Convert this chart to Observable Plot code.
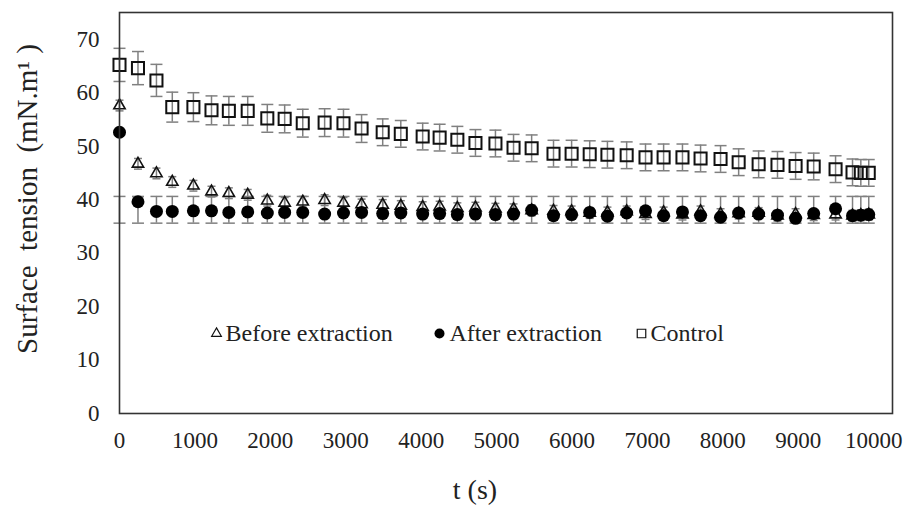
<!DOCTYPE html>
<html><head><meta charset="utf-8">
<script src="https://cdn.jsdelivr.net/npm/d3@7"></script>
<script src="https://cdn.jsdelivr.net/npm/@observablehq/plot@0.6"></script>
<style>body{margin:0;background:#fff} #chart{width:910px;height:511px}</style>
</head><body><div id="chart"></div>
<script>
// ---- data ----
const times = [0,245,490,700,980,1220,1450,1700,1960,2190,2430,2720,2970,3210,3490,3730,4020,4245,4480,4720,4985,5225,5465,5755,5995,6235,6470,6725,6975,7215,7465,7705,7970,8210,8475,8725,8965,9205,9495,9720,9830,9935];
const control = [65.2,64.6,62.3,57.3,57.3,56.7,56.6,56.6,55.2,55.1,54.3,54.4,54.3,53.3,52.6,52.3,51.8,51.6,51.2,50.6,50.5,49.7,49.6,48.6,48.6,48.5,48.4,48.3,47.9,47.9,47.9,47.7,47.6,47.0,46.6,46.5,46.3,46.2,45.7,45.1,45.0,45.0];
const controlErr = [3.1,3.1,3.0,2.8,2.7,2.7,2.7,2.7,2.6,2.6,2.6,2.6,2.6,2.6,2.5,2.5,2.5,2.5,2.5,2.5,2.5,2.5,2.5,2.5,2.5,2.5,2.5,2.5,2.5,2.5,2.5,2.5,2.5,2.5,2.5,2.5,2.5,2.5,2.5,2.5,2.5,2.5];
const before = [57.6,46.7,44.9,43.3,42.6,41.5,41.2,40.9,39.8,39.4,39.6,39.9,39.4,39.1,39.0,38.8,38.6,38.7,38.4,38.5,38.3,38.2,38.0,37.9,37.8,37.5,37.6,37.8,37.3,37.6,37.2,37.8,37.3,37.4,37.5,37.0,37.3,37.1,37.2,37.0,37.1,37.2];
const beforeErr = 1.0;
const after = [52.6,39.6,37.8,37.8,37.9,37.9,37.6,37.7,37.5,37.6,37.6,37.3,37.5,37.6,37.4,37.5,37.3,37.4,37.2,37.3,37.2,37.3,38.0,37.0,37.2,37.6,36.9,37.5,37.9,37.0,37.7,37.0,36.7,37.5,37.3,37.1,36.5,37.4,38.3,37.0,37.1,37.2];
const afterBarLow = 35.6, afterBarHigh = 40.6;
const xTicks = [0,1000,2000,3000,4000,5000,6000,7000,8000,9000,10000];
const yTicks = [0,10,20,30,40,50,60,70];
const legendLabels = ["Before extraction","After extraction","Control"];
const xLabel = "t (s)";
const yLabel = "Surface\u00a0 tension\u00a0 (mN.m\u00b9 )";

const rows = times.map((t, i) => ({
  t, control: control[i], cLo: control[i] - controlErr[i], cHi: control[i] + controlErr[i],
  before: before[i], bLo: before[i] - beforeErr, bHi: before[i] + beforeErr,
  after: after[i], aLo: afterBarLow, aHi: afterBarHigh
}));

const cap = {draw(ctx, size){ const w = Math.sqrt(size / Math.PI); ctx.moveTo(-w, 0); ctx.lineTo(w, 0); }};
const errColor = "#808080";
const serif = "'Liberation Serif','Times New Roman',serif";

function errBars(lo, hi, capR) {
  return [
    Plot.ruleX(rows, {x: "t", y1: lo, y2: hi, stroke: errColor, strokeWidth: 1.5}),
    Plot.dot(rows, {x: "t", y: lo, symbol: cap, r: capR, stroke: errColor, strokeWidth: 1.5, fill: "none"}),
    Plot.dot(rows, {x: "t", y: hi, symbol: cap, r: capR, stroke: errColor, strokeWidth: 1.5, fill: "none"})
  ];
}

const chart = Plot.plot({
  width: 910, height: 511,
  marginLeft: 119, marginRight: 18, marginTop: 12, marginBottom: 98,
  style: {fontFamily: serif, fontSize: "23px", background: "#fff", color: "#222"},
  x: {domain: [0, 10250], label: null},
  y: {domain: [0, 75], label: null},
  marks: [
    ...errBars("aLo", "aHi", 6),
    ...errBars("cLo", "cHi", 6),
    ...errBars("bLo", "bHi", 4),
    Plot.dot(rows, {x: "t", y: "before", symbol: "triangle", r: 4.2, stroke: "#111", strokeWidth: 1.6, fill: "none"}),
    Plot.dot(rows, {x: "t", y: "after", symbol: "circle", r: 6.5, fill: "#000", stroke: "none"}),
    Plot.dot(rows, {x: "t", y: "control", symbol: "square", r: 6.8, stroke: "#111", strokeWidth: 2, fill: "none"}),
    Plot.frame({stroke: "#333", strokeWidth: 1.6}),
    Plot.axisX(xTicks, {tickSize: 0, tickPadding: 18, tickFormat: d => String(d), fontSize: 23, fill: "#222", label: null}),
    Plot.axisY(yTicks, {tickSize: 0, tickPadding: 20, tickFormat: d => String(d), fontSize: 23, fill: "#222", label: null}),
    Plot.text([yLabel], {text: d => d, frameAnchor: "left", dx: -92, dy: -14, rotate: -90, fontSize: 29, fill: "#222", lineAnchor: "middle", textAnchor: "middle"}),
    Plot.text([xLabel], {text: d => d, frameAnchor: "bottom", dx: -31, dy: 77, fontSize: 28, fill: "#222", lineAnchor: "middle"}),
    // legend
    Plot.dot([legendLabels[0]], {frameAnchor: "top-left", dx: 97, dy: 321, symbol: "triangle", r: 3.6, stroke: "#111", strokeWidth: 1.2, fill: "none"}),
    Plot.text([legendLabels[0]], {text: d => d, frameAnchor: "top-left", dx: 106, dy: 321, textAnchor: "start", lineAnchor: "middle", fontSize: 24, fill: "#222"}),
    Plot.dot([legendLabels[1]], {frameAnchor: "top-left", dx: 320, dy: 321, symbol: "circle", r: 5, fill: "#000"}),
    Plot.text([legendLabels[1]], {text: d => d, frameAnchor: "top-left", dx: 330, dy: 321, textAnchor: "start", lineAnchor: "middle", fontSize: 24, fill: "#222"}),
    Plot.dot([legendLabels[2]], {frameAnchor: "top-left", dx: 522, dy: 321, symbol: "square", r: 4.8, stroke: "#111", strokeWidth: 1.2, fill: "none"}),
    Plot.text([legendLabels[2]], {text: d => d, frameAnchor: "top-left", dx: 531, dy: 321, textAnchor: "start", lineAnchor: "middle", fontSize: 24, fill: "#222"})
  ]
});
document.getElementById("chart").appendChild(chart);
</script></body></html>
